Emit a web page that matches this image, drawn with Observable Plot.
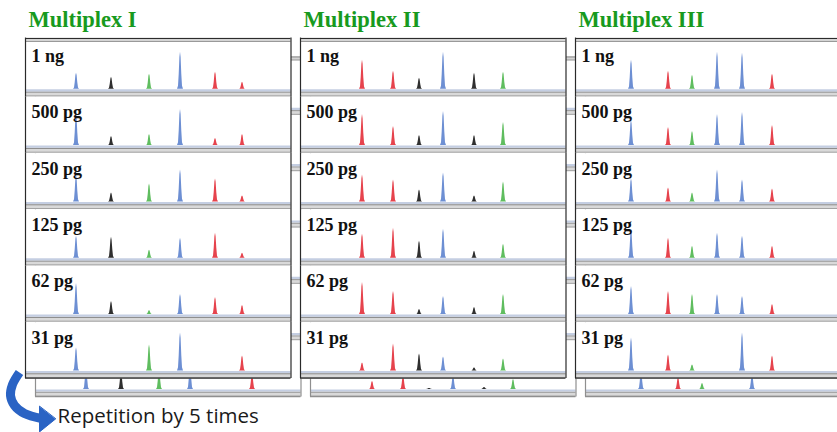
<!DOCTYPE html>
<html>
<head>
<meta charset="utf-8">
<script src="https://cdn.jsdelivr.net/npm/d3@7"></script>
<script src="https://cdn.jsdelivr.net/npm/@observablehq/plot@0.6"></script>
<style>
  html, body { margin: 0; padding: 0; background: #ffffff; overflow: hidden; }
  #chart { width: 837px; height: 432px; overflow: hidden; }
  #chart svg { display: block; }
</style>
</head>
<body>
<div id="chart"></div>
<script>
// ---------- data ----------
const multiplexes = ["Multiplex I", "Multiplex II", "Multiplex III"];
const amounts = ["1 ng", "500 pg", "250 pg", "125 pg", "62 pg", "31 pg"];
const dyes = ["FAM", "NED", "VIC", "PET"]; // blue, black, green, red traces

// peak positions (scan position within the trace) and dye of each locus
const lociI = [51, 86, 124, 155, 190, 217];
const dyesI = ["FAM", "NED", "VIC", "FAM", "PET", "PET"];
const lociII = [62, 93, 119, 143, 174, 203];
const dyesII = ["PET", "PET", "NED", "FAM", "NED", "VIC"];
const lociIII = [56, 93, 117, 142, 167, 197];
const dyesIII = ["FAM", "PET", "VIC", "FAM", "FAM", "PET"];

// peak heights per amount (rows follow `amounts`), 0 = no peak
const heightsI = [
  [16, 12, 15, 37, 17, 7],
  [32, 9, 11, 36, 7, 11],
  [27, 9, 18, 32, 23, 6],
  [22, 21, 8, 20, 25, 5],
  [31, 13, 4, 20, 17, 9],
  [23, 0, 26, 38, 0, 15]
];
const heightsII = [
  [29, 18, 11, 37, 16, 17],
  [31, 19, 10, 34, 10, 23],
  [27, 22, 12, 29, 6, 20],
  [24, 30, 17, 29, 7, 14],
  [32, 23, 5, 18, 7, 20],
  [8, 27, 17, 14, 3, 12]
];
const heightsIII = [
  [29, 18, 14, 37, 36, 15],
  [25, 18, 14, 31, 33, 20],
  [23, 14, 9, 32, 22, 13],
  [29, 20, 12, 25, 22, 12],
  [28, 23, 20, 20, 18, 10],
  [33, 16, 6, 0, 38, 15]
];
// repetition trace peeking out below each panel (31 pg repeat)
const repHeightsI = [22, 18, 20, 24, 0, 16];
const repHeightsII = [8, 14, 1, 14, 2, 10];
const repHeightsIII = [18, 12, 6, 0, 16, 0];

const caption = "Repetition by 5 times";

// ---------- styling / geometry constants ----------
const dyeColors = ["#6d8fd3", "#2f2f2f", "#5fbd5f", "#e6434d"];
const titleColor = "#189a1e";
const traceWidth = 265.5;           // x extent of a trace
const yBottom = -7.6, yTop = 48.73; // y extent of a trace row
const backShift = {dx: 10, dy: 18.5};
const arrowColor = "#2a63c4";
const arrowPath = [[-6, -1.6], [-13, -13.6], [-15, -24.6], [-11, -34.6], [-1, -42.6], [16, -47.6]];
const arrowHead = [[14, -35.6], [14, -61], [30, -48.1]];

// ---------- derived tables ----------
const panels = [
  {name: multiplexes[0], loci: lociI, dyes: dyesI, heights: heightsI, rep: repHeightsI},
  {name: multiplexes[1], loci: lociII, dyes: dyesII, heights: heightsII, rep: repHeightsII},
  {name: multiplexes[2], loci: lociIII, dyes: dyesIII, heights: heightsIII, rep: repHeightsIII}
];
const shapeDx = [-3, -2, -1.3, -0.6, 0, 0.6, 1.3, 2, 3];
const shapeRel = [0, 0.08, 0.4, 0.86, 1, 0.86, 0.4, 0.08, 0];
function addPeak(out, panel, row, i, h, tag) {
  if (!h) return;
  const id = `${tag}|${panel.name}|${row}|${i}`;
  shapeDx.forEach((d, k) => out.push({
    fx: panel.name, fy: row, id, dye: panel.dyes[i],
    x: panel.loci[i] + d, y: h * shapeRel[k]
  }));
}
const peaks = [], repPeaks = [];
panels.forEach(p => {
  p.heights.forEach((row, r) => row.forEach((h, i) => addPeak(peaks, p, amounts[r], i, h, "f")));
  p.rep.forEach((h, i) => addPeak(repPeaks, p, amounts[amounts.length - 1], i, h, "b"));
});
const cells = multiplexes.flatMap(m => amounts.map(a => ({fx: m, fy: a, label: a})));
const firstRow = multiplexes.map(m => ({fx: m, fy: amounts[0], title: m}));
const lastRow = multiplexes.map(m => ({fx: m, fy: amounts[amounts.length - 1]}));
const firstRowEdges = firstRow.flatMap(d => [{...d, x: 0}, {...d, x: traceWidth}]);
const onFirst = {fx: "fx", fy: "fy"};
const annotFacet = {fx: () => multiplexes[0], fy: () => amounts[amounts.length - 1]};

function trayMarks(shift, edge, lineDark) {
  return [
    Plot.rect([0], {x1: 0, x2: traceWidth, y1: -2.2, y2: yBottom, fill: "#d9d9d9", ...shift}),
    Plot.ruleY([-2.9], {stroke: lineDark, strokeWidth: 1, ...shift}),
    Plot.ruleY([-6.6], {stroke: "#a3a3a3", strokeWidth: 1, ...shift}),
    Plot.ruleY([0], {stroke: "#c4cee2", strokeWidth: 2.2, dx: shift.dx, dy: shift.dy + 1.1}),
    Plot.rect(firstRow, {...onFirst, x1: 0, x2: traceWidth, y1: yTop - 1.6, y2: yTop + 2.4, fill: "#d4d4d4", ...shift}),
    Plot.ruleY(firstRow, {...onFirst, y: yTop + 2.0, stroke: edge, strokeWidth: 1, ...shift}),
    Plot.ruleY(firstRow, {...onFirst, y: yTop - 1.0, stroke: "#9a9a9a", strokeWidth: 1, ...shift}),
    Plot.ruleY(lastRow, {...onFirst, y: yBottom + 0.4, stroke: edge, strokeWidth: 1.2, ...shift}),
    Plot.ruleX([0, traceWidth], {stroke: edge, strokeWidth: 1.2, ...shift}),
    Plot.ruleX(firstRowEdges, {...onFirst, x: "x", y1: yTop, y2: yTop + 2.4, stroke: edge, strokeWidth: 1.2, ...shift})
  ];
}

const chart = Plot.plot({
  width: 845,
  height: 432,
  marginLeft: 25,
  marginRight: 4.5,
  marginTop: 40,
  marginBottom: 54,
  facet: {marginTop: 0, marginRight: 0, marginBottom: 0, marginLeft: 0},
  fx: {domain: multiplexes, paddingInner: 9.5 / 275, paddingOuter: 0, round: false, axis: null},
  fy: {domain: amounts, paddingInner: 0, paddingOuter: 0, round: false, axis: null},
  x: {domain: [0, traceWidth], axis: null},
  y: {domain: [yBottom, yTop], axis: null},
  color: {type: "ordinal", domain: dyes, range: dyeColors},
  style: "background: transparent; max-width: none; overflow: visible;",
  marks: [
    // repetition panel behind
    ...trayMarks(backShift, "#8f8f8f", "#9a9a9a"),
    Plot.areaY(repPeaks, {x: "x", y: "y", z: "id", fill: "dye", fx: "fx", fy: "fy", ...backShift}),
    // front panel
    Plot.frame({fill: "white", stroke: "none"}),
    ...trayMarks({dx: 0, dy: 0}, "#2a2a2a", "#8c8c8c"),
    Plot.areaY(peaks, {x: "x", y: "y", z: "id", fill: "dye", fx: "fx", fy: "fy"}),
    Plot.text(cells, {
      fx: "fx", fy: "fy", text: "label", frameAnchor: "top-left", textAnchor: "start", lineAnchor: "bottom",
      dx: 6, dy: 21.5, fontFamily: "Liberation Serif", fontWeight: "bold", fontSize: 18, fill: "#111"
    }),
    Plot.text(firstRow, {
      fx: "fx", fy: "fy", text: "title", frameAnchor: "top-left", textAnchor: "start", lineAnchor: "bottom",
      dx: 3, dy: -14, fontFamily: "Liberation Serif", fontWeight: "bold", fontSize: 22.5, fill: titleColor
    }),
    // annotation
    Plot.text([caption], {
      ...annotFacet, text: d => d, frameAnchor: "bottom-left", textAnchor: "start", lineAnchor: "bottom",
      dx: 32, dy: 44, fontFamily: "Open Sans", fontSize: 20.5, fill: "#1a1a1a"
    }),
    Plot.line(arrowPath, {...annotFacet, x: d => d[0], y: d => d[1], curve: "catmull-rom",
      stroke: arrowColor, strokeWidth: 9, strokeLinecap: "butt"}),
    Plot.line(arrowHead, {...annotFacet, x: d => d[0], y: d => d[1], curve: "linear-closed",
      fill: arrowColor, stroke: arrowColor, strokeWidth: 1, strokeLinejoin: "miter"})
  ]
});
document.getElementById("chart").appendChild(chart);
</script>
</body>
</html>
